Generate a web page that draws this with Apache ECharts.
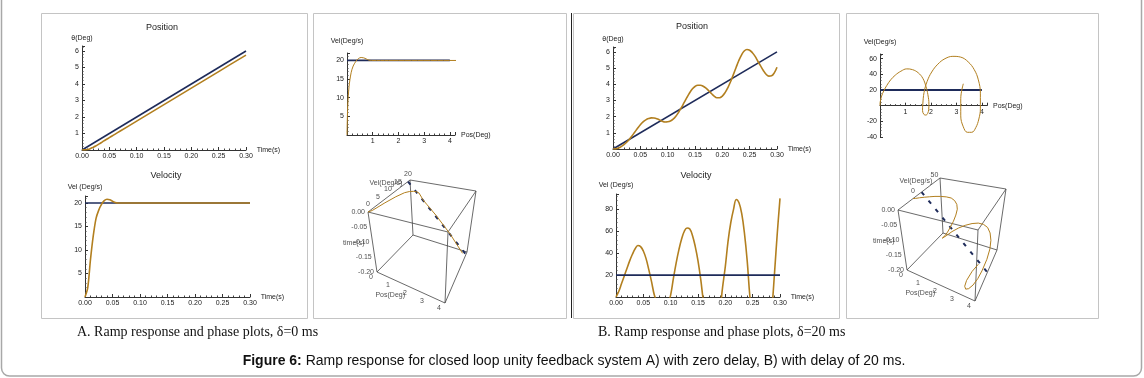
<!DOCTYPE html>
<html>
<head>
<meta charset="utf-8">
<script src="https://cdn.jsdelivr.net/npm/echarts@6/dist/echarts.min.js"></script>
<style>
html, body { margin: 0; padding: 0; background: #fff; }
#chart { width: 1144px; height: 378px; }
</style>
</head>
<body>
<div id="chart"></div>
<script>
// delayed system (20 ms), sampled every 5 ms
const tDelay = [0, 0.005, 0.01, 0.015, 0.02, 0.025, 0.03, 0.035, 0.04, 0.045, 0.05, 0.055, 0.06, 0.065, 0.07, 0.075,
  0.08, 0.085, 0.09, 0.095, 0.10, 0.105, 0.11, 0.115, 0.12, 0.125, 0.13, 0.135, 0.14, 0.145, 0.15, 0.155,
  0.16, 0.165, 0.17, 0.175, 0.18, 0.185, 0.19, 0.195, 0.20, 0.205, 0.21, 0.215, 0.22, 0.225, 0.23, 0.235,
  0.24, 0.245, 0.25, 0.255, 0.26, 0.265, 0.27, 0.275, 0.28, 0.285, 0.29, 0.295, 0.30];
const posDelay = [0, 0.01, 0.06, 0.15, 0.27, 0.42, 0.6, 0.82, 1.05, 1.28, 1.5, 1.68, 1.8, 1.88, 1.92, 1.91,
  1.87, 1.8, 1.72, 1.67, 1.68, 1.73, 1.85, 2.03, 2.27, 2.55, 2.86, 3.17, 3.46, 3.7, 3.86, 3.94,
  3.94, 3.88, 3.76, 3.6, 3.43, 3.27, 3.17, 3.17, 3.27, 3.48, 3.78, 4.15, 4.58, 5.02, 5.45, 5.8,
  6.05, 6.15, 6.1, 5.95, 5.72, 5.42, 5.13, 4.85, 4.62, 4.5, 4.52, 4.7, 5.05];
const velDelay = [0, 5, 12, 19, 26, 33, 39, 44, 47, 46, 42, 35, 25, 14, 2, -5,
  -10, -12, -11, -6, 2, 17, 31, 43, 53, 60, 63, 62, 56, 46, 33, 16,
  -4, -17, -28, -34, -34, -27, -13, 9, 28, 51, 68, 80, 89, 86, 76, 58,
  33, 0, -20, -38, -52, -58, -58, -50, -35, -12, 22, 58, 90];

// zero delay system
const tZero = [0, 0.005, 0.01, 0.015, 0.02, 0.025, 0.03, 0.035, 0.04, 0.045, 0.05, 0.055, 0.06, 0.07, 0.10, 0.15, 0.20, 0.25, 0.30];
const posZero = [0, 0.005, 0.03, 0.08, 0.16, 0.24, 0.34, 0.44, 0.55, 0.65, 0.75, 0.85, 0.95, 1.15, 1.75, 2.75, 3.75, 4.75, 5.75];
const velZero = [0, 2, 8, 13, 16.7, 18.5, 19.7, 20.5, 20.8, 20.7, 20.4, 20.1, 20, 20, 20, 20, 20, 20, 20];

// ramp reference
const refT = [0, 0.30];
const refPos = [0, 6];
const refVel = [20, 20];
const refPhasePos = [0, 4];
const ref3dT = [0, 0.20];
const ref3dPos = [0, 4];

// 3D box tick labels
const timeTicks3d = [0, -0.05, -0.10, -0.15, -0.20];
const posTicks3d = [0, 1, 2, 3, 4];
const velTicksA = [0, 5, 10, 15, 20];
const velTicksB = [0, 50];

const BLUE = '#1e2b5a';
const ORANGE = '#b27f1f';
const FONT = 'Liberation Sans';

const zip = (a, b) => a.map((v, i) => [v, b[i]]);

// 3D boxes: screen corners, trilinear projection
const boxA = {
  A: [368, 212], B: [410, 180], C: [476, 191], D: [448, 232],
  E: [377, 272], G: [413, 235], H: [467, 252], F: [445, 303],
  vmin: 0, vmax: 21
};
const shiftBox = (b, dx, dy, vmin, vmax) => {
  const o = { vmin, vmax };
  'ABCDEFGH'.split('').forEach(k => { o[k] = [b[k][0] + dx, b[k][1] + dy]; });
  return o;
};
const boxB = shiftBox(boxA, 530, -2, -35, 63);

function proj(box, pos, vel, time) {
  const u = pos / 4, v = (vel - box.vmin) / (box.vmax - box.vmin), w = -time / 0.2;
  const wt = {
    A: (1 - u) * (1 - v) * (1 - w), D: u * (1 - v) * (1 - w), B: (1 - u) * v * (1 - w), C: u * v * (1 - w),
    E: (1 - u) * (1 - v) * w, F: u * (1 - v) * w, G: (1 - u) * v * w, H: u * v * w
  };
  let x = 0, y = 0;
  for (const k in wt) { x += wt[k] * box[k][0]; y += wt[k] * box[k][1]; }
  return [x, y];
}

function box3dSeries(box, t, pos, vel, velTicks) {
  const edges = [['A','B'],['B','C'],['C','D'],['D','A'],['E','F'],['F','H'],['H','G'],['G','E'],
                 ['A','E'],['B','G'],['C','H'],['D','F']];
  const out = [];
  edges.forEach(e => out.push({
    type: 'line', xAxisIndex: 6, yAxisIndex: 6, symbol: 'none', silent: true,
    lineStyle: { color: '#444', width: 0.8 }, data: [box[e[0]], box[e[1]]]
  }));
  // reference ramp
  out.push({
    type: 'line', xAxisIndex: 6, yAxisIndex: 6, symbol: 'none', silent: true,
    lineStyle: { color: BLUE, width: 2, type: [4, 7] },
    data: ref3dT.map((tt, i) => proj(box, ref3dPos[i], 20, -tt))
  });
  // response
  const pts = [];
  t.forEach((tt, i) => { if (tt <= 0.2001) pts.push(proj(box, pos[i], vel[i], -tt)); });
  out.push({
    type: 'line', xAxisIndex: 6, yAxisIndex: 6, symbol: 'none', silent: true,
    lineStyle: { color: ORANGE, width: 1 }, data: pts
  });
  const lbl = { show: true, formatter: '{b}', fontSize: 7, color: '#222', fontFamily: FONT };
  const labels = [];
  timeTicks3d.forEach(tt => labels.push({ name: tt === 0 ? '0.00' : tt.toFixed(2), value: proj(box, 0, box.vmin, tt),
    label: Object.assign({}, lbl, { position: 'left', distance: 3 }) }));
  posTicks3d.forEach(p => labels.push({ name: String(p), value: proj(box, p, box.vmin, -0.2),
    label: Object.assign({}, lbl, { position: 'bottom', distance: 2, offset: [-6, 0] }) }));
  velTicks.forEach(v => labels.push({ name: String(v), value: proj(box, 0, v, 0),
    label: Object.assign({}, lbl, { position: 'top', distance: 4 }) }));
  labels.push({ name: 'time(s)', value: proj(box, 0, box.vmin, -0.10),
    label: Object.assign({}, lbl, { position: 'left', distance: 4, offset: [-4, 1] }) });
  labels.push({ name: 'Pos(Deg)', value: proj(box, 2, box.vmin, -0.2),
    label: Object.assign({}, lbl, { position: 'left', distance: 6, offset: [0, 8] }) });
  labels.push({ name: 'Vel(Deg/s)', value: proj(box, 0, box.vmin + 0.72 * (box.vmax - box.vmin), 0),
    label: Object.assign({}, lbl, { position: 'left', distance: 0, offset: [4, -6] }) });
  out.push({
    type: 'scatter', xAxisIndex: 6, yAxisIndex: 6, symbolSize: 0, silent: true,
    data: labels
  });
  return out;
}

function valueAxis(gridIndex, min, max, interval, o) {
  return {
    type: 'value', gridIndex, min, max, interval,
    offset: o.offset || 0,
    name: o.name || '', nameLocation: 'end', nameGap: o.nameGap || 5,
    nameTextStyle: { fontSize: 7, color: '#222', fontFamily: FONT },
    axisLine: { onZero: o.offset ? false : true, lineStyle: { color: '#333', width: 1 } },
    axisTick: { inside: true, length: 3, lineStyle: { color: '#333' } },
    minorTick: { show: true, splitNumber: o.minor || 5, length: 1.5, lineStyle: { color: '#444' } },
    splitLine: { show: false },
    axisLabel: { fontSize: 7, color: '#222', margin: 3, fontFamily: FONT, formatter: o.fmt }
  };
}

const timeFmt = v => v.toFixed(2);
const multFmt = step => v => (v !== 0 && Math.abs(v / step - Math.round(v / step)) < 1e-6) ? String(Math.round(v)) : '';

const grids = [
  { left: 82, top: 46, width: 164, height: 104 },   // A position
  { left: 85, top: 196, width: 165, height: 101 },  // A velocity
  { left: 347, top: 53, width: 108, height: 82 },   // A phase
  { left: 613, top: 47, width: 164, height: 102 },  // B position
  { left: 616, top: 194, width: 164, height: 103 }, // B velocity
  { left: 880, top: 54, width: 107, height: 83 },   // B phase
  { left: 0, top: 0, width: 1144, height: 378 }     // 3D overlay
];

const xAxes = [
  valueAxis(0, 0, 0.30, 0.05, { name: 'Time(s)', nameGap: 6, fmt: timeFmt }),
  valueAxis(1, 0, 0.30, 0.05, { name: 'Time(s)', nameGap: 6, fmt: timeFmt }),
  valueAxis(2, 0, 4.2, 1, { name: 'Pos(Deg)', nameGap: 6, fmt: multFmt(1) }),
  valueAxis(3, 0, 0.30, 0.05, { name: 'Time(s)', nameGap: 6, fmt: timeFmt }),
  valueAxis(4, 0, 0.30, 0.05, { name: 'Time(s)', nameGap: 6, fmt: timeFmt }),
  // crosses the vertical axis at vel = 0 (40 of 106 units above the bottom)
  valueAxis(5, 0, 4.2, 1, { name: 'Pos(Deg)', nameGap: 6, fmt: multFmt(1), offset: -83 * 40 / 106 }),
  { type: 'value', gridIndex: 6, min: 0, max: 1144, show: false }
];
const yAxes = [
  valueAxis(0, 0, 6.3, 1, { name: 'θ(Deg)', nameGap: 4, fmt: multFmt(1) }),
  valueAxis(1, 0, 21.5, 5, { name: 'Vel (Deg/s)', nameGap: 5, fmt: multFmt(5) }),
  valueAxis(2, 0, 22, 5, { name: 'Vel(Deg/s)', nameGap: 8, fmt: multFmt(5) }),
  valueAxis(3, 0, 6.3, 1, { name: 'θ(Deg)', nameGap: 4, fmt: multFmt(1) }),
  valueAxis(4, 0, 94, 20, { name: 'Vel (Deg/s)', nameGap: 5, fmt: multFmt(20) }),
  valueAxis(5, -40, 66, 20, { name: 'Vel(Deg/s)', nameGap: 8, fmt: multFmt(20) }),
  { type: 'value', gridIndex: 6, min: 0, max: 378, inverse: true, show: false }
];

const lineS = (ix, data, color, width, smooth) => ({
  type: 'line', xAxisIndex: ix, yAxisIndex: ix, data, symbol: 'none', smooth: smooth || false,
  silent: true, clip: true, lineStyle: { color, width }
});

const delayPhase = [];
tDelay.forEach((tt, i) => { if (tt <= 0.2001) delayPhase.push([posDelay[i], velDelay[i]]); });

const series = [
  lineS(0, zip(refT, refPos), BLUE, 1.6),
  lineS(0, zip(tZero, posZero), ORANGE, 1.6, 0.3),
  lineS(1, zip(refT, refVel), BLUE, 1.6),
  lineS(1, zip(tZero, velZero), ORANGE, 1.6, 0.3),
  lineS(2, zip(refPhasePos, refVel), BLUE, 1.8),
  lineS(2, zip(posZero, velZero), ORANGE, 1, 0.3),
  lineS(3, zip(refT, refPos), BLUE, 1.6),
  lineS(3, zip(tDelay, posDelay), ORANGE, 1.6, 0.4),
  lineS(4, zip(tDelay, velDelay), ORANGE, 1.6, 0.4),
  lineS(4, zip(refT, refVel), BLUE, 1.8),
  lineS(5, zip(refPhasePos, refVel), BLUE, 1.8),
  lineS(5, delayPhase, ORANGE, 1, 0.4)
].concat(box3dSeries(boxA, tZero, posZero, velZero, velTicksA))
 .concat(box3dSeries(boxB, tDelay, posDelay, velDelay, velTicksB));

const titleStyle = { fontSize: 9, fontWeight: 'normal', color: '#222', fontFamily: FONT };
const titles = [
  { text: 'Position', left: 162, top: 23, padding: 0, textAlign: 'center', textStyle: titleStyle },
  { text: 'Velocity', left: 166, top: 171, padding: 0, textAlign: 'center', textStyle: titleStyle },
  { text: 'Position', left: 692, top: 22, padding: 0, textAlign: 'center', textStyle: titleStyle },
  { text: 'Velocity', left: 696, top: 171, padding: 0, textAlign: 'center', textStyle: titleStyle },
  { text: 'A. Ramp response and phase plots, δ=0 ms', left: 77, top: 325, padding: 0,
    textStyle: { fontSize: 14, fontWeight: 'normal', color: '#111', fontFamily: 'Liberation Serif' } },
  { text: 'B. Ramp response and phase plots, δ=20 ms', left: 598, top: 325, padding: 0,
    textStyle: { fontSize: 14, fontWeight: 'normal', color: '#111', fontFamily: 'Liberation Serif' } },
  { text: '{b|Figure 6:} Ramp response for closed loop unity feedback system A) with zero delay, B) with delay of 20 ms.',
    left: 574, top: 354, padding: 0, textAlign: 'center',
    textStyle: { fontSize: 14, fontWeight: 'normal', color: '#111', fontFamily: FONT,
      rich: { b: { fontSize: 14, fontWeight: 'bold', color: '#111', fontFamily: FONT } } } }
];

const frame = (x, y, w, h) => ({ type: 'rect', silent: true, z: -1,
  shape: { x: x + 0.5, y: y + 0.5, width: w, height: h },
  style: { fill: 'none', stroke: '#c4c4c4', lineWidth: 1 } });

const graphics = [
  { type: 'rect', silent: true, z: -1,
    shape: { x: 1.5, y: -20, width: 1140, height: 396, r: 8 },
    style: { fill: 'none', stroke: '#a8a8a8', lineWidth: 1.5 } },
  frame(41, 13, 266, 305),
  frame(313, 13, 253, 305),
  frame(573, 13, 266, 305),
  frame(846, 13, 252, 305),
  { type: 'line', silent: true, shape: { x1: 571.5, y1: 13, x2: 571.5, y2: 318 },
    style: { stroke: '#222', lineWidth: 1 } }
];

const chart = echarts.init(document.getElementById('chart'), null, { renderer: 'canvas' });
chart.setOption({
  animation: false,
  backgroundColor: '#fff',
  title: titles,
  grid: grids,
  xAxis: xAxes,
  yAxis: yAxes,
  series,
  graphic: graphics
});
</script>
</body>
</html>
